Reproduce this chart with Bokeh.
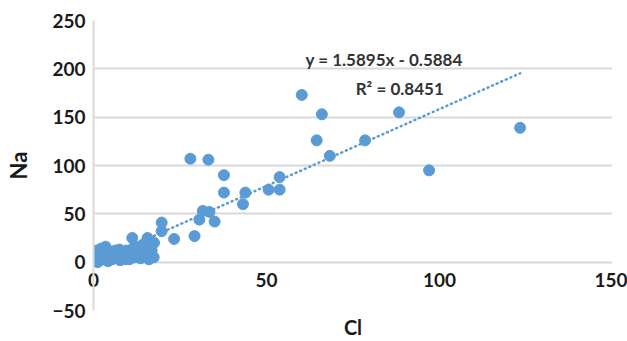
from bokeh.plotting import figure
from bokeh.models import Label, FixedTicker, ColumnDataSource
from bokeh.embed import file_html
from bokeh.resources import INLINE

# Data (Cl vs Na)
cl = [60.2, 66.0, 64.5, 68.3, 78.5, 88.3, 123.3, 97.0, 53.8, 50.6, 53.8,
      28.0, 33.2, 37.7, 37.7, 43.9, 43.2, 31.6, 33.5, 30.6, 35.0, 29.2,
      19.7, 19.7, 23.3, 15.6, 17.5, 11.2, 17.4,
      0.3, 0.8, 1.2, 1.5, 2.0, 2.4, 2.8, 3.0, 3.3, 3.8, 4.2, 4.6, 5.0, 5.4,
      5.9, 6.3, 6.8, 7.2, 7.7, 8.1, 8.6, 9.0, 9.5, 10.0, 10.4, 10.9, 11.3,
      11.8, 12.2, 12.7, 13.1, 13.6, 14.0, 14.5, 15.0, 15.4, 15.9, 16.3, 16.8,
      1.0, 2.2, 3.5, 4.4, 6.0, 7.5, 9.2, 12.0, 14.2, 16.0]
na = [173, 153, 126, 110, 126, 155, 139, 95, 88, 75, 75,
      107, 106, 90, 72, 72, 60, 53, 52, 44, 42, 27,
      41, 32, 24, 25, 20, 25, 5,
      1, 4, 0, 7, 2, 10, 5, 13, 3, 8, 1, 11, 6, 3,
      9, 12, 4, 7, 2, 10, 5, 8, 12, 6, 3, 9, 14,
      5, 11, 7, 13, 4, 9, 15, 6, 11, 17, 8, 12,
      12, 14, 16, 6, 10, 13, 3, 16, 18, 3]

slope = 1.5895
intercept = -0.5884
eq_text = "y = 1.5895x - 0.5884"
r2_text = "R\u00b2 = 0.8451"
x_title = "Cl"
y_title = "Na"

x_ticks = [0, 50, 100, 150]
y_ticks = [-50, 0, 50, 100, 150, 200, 250]

BLUE = "#5b9bd5"
GRID = "#d9d9d9"
FONT = "Lato"
TXT = "#1a1a1a"

p = figure(width=627, height=341, x_range=(0, 150), y_range=(-50, 250),
           output_backend="svg", toolbar_location=None,
           min_border_left=93, min_border_right=15, min_border_top=20,
           min_border_bottom=29)
p.outline_line_color = None
p.background_fill_color = "white"

# x axis: tick labels lifted up to sit just under the zero line
xa = p.below[0]
xa.ticker = FixedTicker(ticks=x_ticks)
xa.axis_line_color = None
xa.major_tick_line_color = None
xa.minor_tick_line_color = None
xa.major_tick_out = 0
xa.major_tick_in = 0
xa.major_label_text_font = FONT
xa.major_label_text_font_style = "bold"
xa.major_label_text_font_size = "19px"
xa.major_label_text_color = TXT
xa.major_label_standoff = -38
xa.axis_label = x_title
xa.axis_label_text_font = FONT
xa.axis_label_text_font_style = "bold"
xa.axis_label_text_font_size = "20px"
xa.axis_label_text_color = TXT
xa.axis_label_standoff = 25

ya = p.left[0]
ya.ticker = FixedTicker(ticks=y_ticks)
ya.axis_line_color = GRID
ya.axis_line_width = 2
ya.major_tick_line_color = None
ya.minor_tick_line_color = None
ya.major_tick_out = 0
ya.major_label_text_font = FONT
ya.major_label_text_font_style = "bold"
ya.major_label_text_font_size = "19px"
ya.major_label_text_color = TXT
ya.major_label_standoff = 8
ya.axis_label = y_title
ya.axis_label_text_font = FONT
ya.axis_label_text_font_style = "bold"
ya.axis_label_text_font_size = "22px"
ya.axis_label_text_color = TXT
ya.axis_label_standoff = 17

p.xgrid.grid_line_color = None
p.ygrid.ticker = FixedTicker(ticks=y_ticks)
p.ygrid.grid_line_color = GRID
p.ygrid.grid_line_width = 2

# trendline
x0, x1 = min(cl), max(cl)
p.line([x0, x1], [slope * x0 + intercept, slope * x1 + intercept],
       line_color=BLUE, line_width=2.5, line_dash="1 4", line_cap="round")

src = ColumnDataSource(dict(x=cl, y=na))
p.scatter("x", "y", source=src, size=11, fill_color=BLUE, line_color=BLUE)

p.add_layout(Label(x=84, y=210, text=eq_text, text_align="center",
                   text_baseline="middle", text_font=FONT,
                   text_font_style="bold", text_font_size="17px",
                   text_color="#333333"))
p.add_layout(Label(x=88.5, y=180, text=r2_text, text_align="center",
                   text_baseline="middle", text_font=FONT,
                   text_font_style="bold", text_font_size="17px",
                   text_color="#333333"))

open("out.html", "w").write(file_html(p, INLINE))
